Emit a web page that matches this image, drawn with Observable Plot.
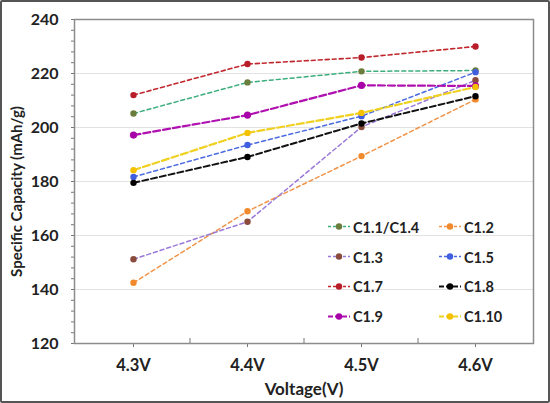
<!DOCTYPE html>
<html>
<head>
<meta charset="utf-8">
<script src="https://cdn.jsdelivr.net/npm/d3@7"></script>
<script src="https://cdn.jsdelivr.net/npm/@observablehq/plot@0.6"></script>
<style>
  html, body { margin: 0; padding: 0; background: #fff; }
  #wrap { position: relative; width: 550px; height: 403px; overflow: hidden; background: #fff; }
  #wrap::after { content: ""; position: absolute; inset: 0; border: 2px solid #555; border-radius: 2px; pointer-events: none; }
  .leg { position: absolute; display: flex; align-items: center; font-family: Lato, "Liberation Sans", sans-serif; font-weight: bold; font-size: 14.5px; color: #222; transform: translateY(-50%); }
  .leg svg { margin-right: 3px; }
</style>
</head>
<body>
<div id="wrap"></div>
<script>
const voltages = ["4.3V", "4.4V", "4.5V", "4.6V"];
const seriesNames = ["C1.1/C1.4", "C1.2", "C1.3", "C1.5", "C1.7", "C1.8", "C1.9", "C1.10"];
const c11 = [205.2, 216.7, 220.8, 221.1];
const c12 = [142.5, 169.0, 189.4, 210.4];
const c13 = [151.2, 165.1, 200.2, 217.5];
const c15 = [181.7, 193.5, 204.2, 220.5];
const c17 = [212.0, 223.5, 225.9, 230.0];
const c18 = [179.5, 189.1, 201.5, 211.6];
const c19 = [197.2, 204.6, 215.6, 215.4];
const c110 = [184.2, 198.0, 205.4, 215.0];
const seriesValues = [c11, c12, c13, c15, c17, c18, c19, c110];
const lineColors = ["#3cae7c", "#f0944a", "#9a7ad8", "#4a6ae0", "#c0282e", "#111111", "#b010b0", "#f0d020"];
const dotColors = ["#6b7d3c", "#f08a2c", "#8a4a3c", "#3f5fe0", "#b81e2a", "#000000", "#a800a8", "#f5c000"];
const yTicks = [120, 140, 160, 180, 200, 220, 240];
const yMinorTicks = d3.range(120, 241, 4);
const dashes = ["4,3", "4,3", "4,3", "4,3", "4,3", "6,3", "7,3", "7,3"];
const widths = [1.5, 1.5, 1.5, 1.5, 1.6, 2, 2.2, 2.2];

const rows = [];
seriesNames.forEach((s, i) => voltages.forEach((v, j) => rows.push({s, v, val: seriesValues[i][j]})));

const lineMarks = [];
seriesNames.forEach((s, i) => {
  const d = rows.filter(r => r.s === s);
  lineMarks.push(Plot.line(d, {x: "v", y: "val", stroke: lineColors[i], strokeWidth: widths[i], strokeDasharray: dashes[i]}));
});
const dotMarks = [];
seriesNames.forEach((s, i) => {
  const d = rows.filter(r => r.s === s);
  dotMarks.push(Plot.dot(d, {x: "v", y: "val", fill: dotColors[i], r: i === 6 ? 3.6 : 3.2, stroke: "none"}));
});

const chart = Plot.plot({
  width: 550, height: 403,
  marginLeft: 74, marginRight: 17, marginTop: 19, marginBottom: 60,
  style: {fontFamily: "Lato, 'Liberation Sans', sans-serif", fontWeight: "bold", fontSize: "16px", color: "#222", background: "transparent"},
  x: {type: "point", domain: voltages, padding: 0.5},
  y: {domain: [120, 240]},
  marks: [
    Plot.gridY(yTicks.filter(t => t > 120 && t < 240), {stroke: "#e2e2e2", strokeOpacity: 1}),
    Plot.axisY(yMinorTicks, {tickSize: 3, text: null, stroke: "#777", label: null}),
    Plot.axisY(yTicks, {tickSize: 3, tickPadding: 13, stroke: "#777", fontSize: 16,
      label: "Specific Capacity (mAh/g)", labelAnchor: "center", labelArrow: "none", labelOffset: 63}),
    Plot.axisX({tickSize: 4, tickPadding: 12, stroke: "#777", fontSize: 16.5,
      label: "Voltage(V)", labelAnchor: "center", labelArrow: "none", labelOffset: 51}),
    Plot.frame({stroke: "#8c8c8c", strokeWidth: 1.5}),
    ...lineMarks,
    ...dotMarks
  ]
});

// minor x ticks at band boundaries, from the plot's x scale
const xs = chart.scale("x");
const ys = chart.scale("y");
const svg = d3.select(chart);
const y0 = ys.apply(120);
for (let j = 0; j < voltages.length - 1; j++) {
  const mx = (xs.apply(voltages[j]) + xs.apply(voltages[j + 1])) / 2;
  svg.append("line").attr("x1", mx).attr("x2", mx).attr("y1", y0).attr("y2", y0 - 5).attr("stroke", "#777");
}
// axis titles
svg.selectAll("[aria-label='x-axis label'] text").style("font-size", "17px");
svg.selectAll("[aria-label='y-axis label']").each(function () {
  const g = d3.select(this);
  const t = g.attr("transform") || "";
  g.attr("transform", "translate(0,10) " + t);
});
svg.selectAll("[aria-label='y-axis label'] text").style("font-size", "15px");

const wrap = document.getElementById("wrap");
wrap.appendChild(chart);

// legend
const legCols = [328, 439];
const legRow0 = 226.7, legStep = 29.8;
seriesNames.forEach((s, i) => {
  const col = i % 2, row = Math.floor(i / 2);
  const div = document.createElement("div");
  div.className = "leg";
  div.style.left = legCols[col] + "px";
  div.style.top = (legRow0 + row * legStep) + "px";
  div.innerHTML = `<svg width="22" height="10"><line x1="0" x2="22" y1="5" y2="5" stroke="${lineColors[i]}" stroke-width="${widths[i]}" stroke-dasharray="${i >= 5 ? '5,2' : '3,2'}"/><circle cx="11" cy="5" r="3.2" fill="${dotColors[i]}"/></svg><span>${s}</span>`;
  wrap.appendChild(div);
});
</script>
</body>
</html>
